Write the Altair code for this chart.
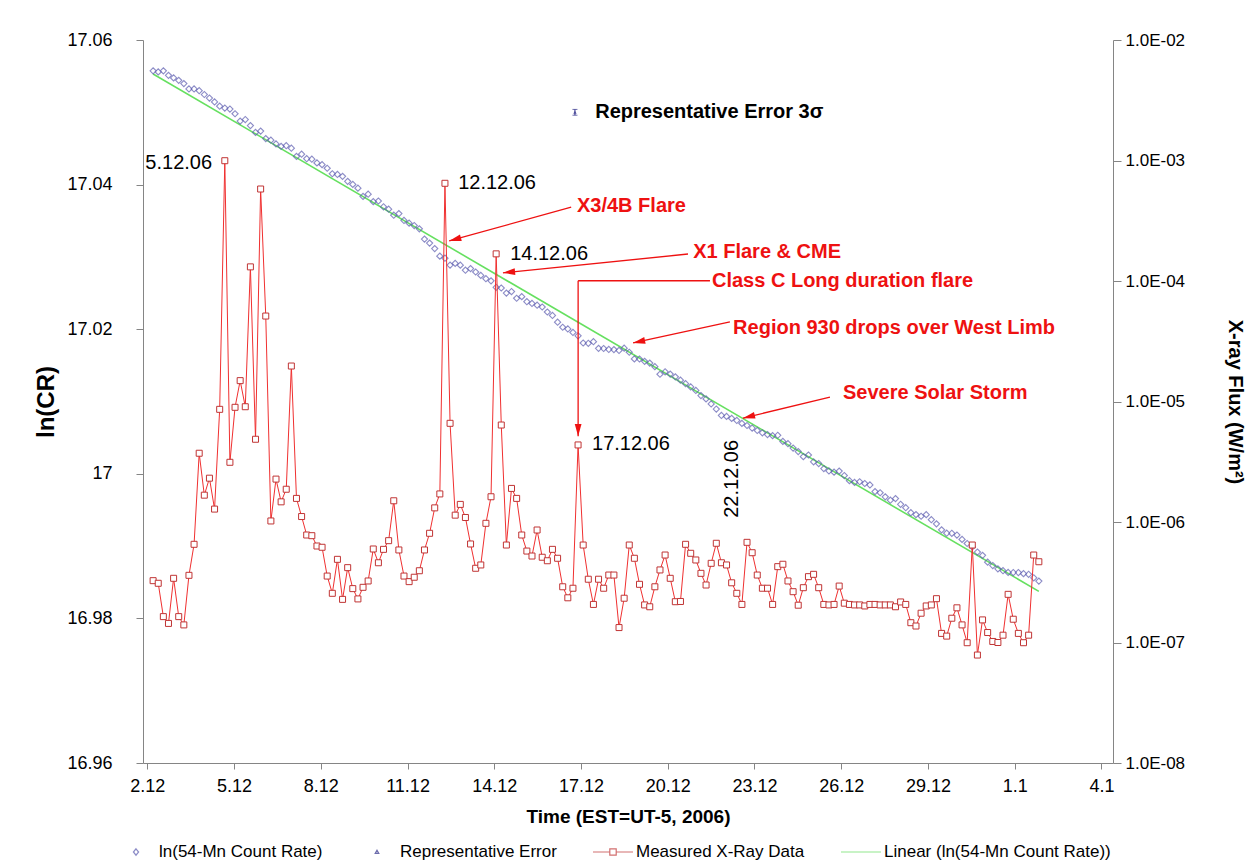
import math
import altair as alt
import pandas as pd

# Both records share one sampling clock: days counted from 1 Dec 2006
# (1 January 2007 is day 32), one sample every 4.25 hours.
T0_DAY = 2.2
STEP_HOURS = 4.25

# ln of the 54-Mn count rate
LN_COUNT_RATE = [
    17.05573, 17.05559, 17.05573, 17.05511, 17.05476, 17.05442, 17.05397, 17.05323, 17.05323, 17.05299,
    17.05246, 17.05197, 17.05143, 17.05084, 17.05059, 17.05045, 17.04980, 17.04878, 17.04900, 17.04816,
    17.04722, 17.04740, 17.04636, 17.04614, 17.04563, 17.04529, 17.04538, 17.04503, 17.04389, 17.04420,
    17.04358, 17.04351, 17.04300, 17.04276, 17.04226, 17.04150, 17.04140, 17.04114, 17.04045, 17.04003,
    17.03951, 17.03837, 17.03867, 17.03764, 17.03773, 17.03693, 17.03660, 17.03577, 17.03599, 17.03504,
    17.03467, 17.03434, 17.03388, 17.03246, 17.03191, 17.03115, 17.03010, 17.02982, 17.02887, 17.02910,
    17.02886, 17.02816, 17.02838, 17.02791, 17.02744, 17.02698, 17.02669, 17.02580, 17.02570, 17.02499,
    17.02521, 17.02428, 17.02450, 17.02380, 17.02356, 17.02332, 17.02307, 17.02238, 17.02190, 17.02097,
    17.02027, 17.02003, 17.01955, 17.01909, 17.01809, 17.01805, 17.01827, 17.01735, 17.01733, 17.01720,
    17.01718, 17.01706, 17.01738, 17.01681, 17.01589, 17.01588, 17.01555, 17.01531, 17.01482, 17.01377,
    17.01411, 17.01379, 17.01341, 17.01295, 17.01247, 17.01201, 17.01153, 17.01082, 17.01036, 17.00966,
    17.00896, 17.00807, 17.00794, 17.00766, 17.00738, 17.00697, 17.00668, 17.00633, 17.00599, 17.00567,
    17.00543, 17.00528, 17.00533, 17.00448, 17.00416, 17.00356, 17.00307, 17.00237, 17.00260, 17.00166,
    17.00142, 17.00072, 17.00039, 17.00023, 17.00037, 16.99976, 16.99905, 16.99881, 16.99890, 16.99866,
    16.99846, 16.99754, 16.99738, 16.99681, 16.99635, 16.99657, 16.99578, 16.99531, 16.99462, 16.99436,
    16.99413, 16.99435, 16.99365, 16.99308, 16.99225, 16.99178, 16.99177, 16.99153, 16.99093, 16.99036,
    16.98989, 16.98918, 16.98872, 16.98778, 16.98731, 16.98685, 16.98660, 16.98636, 16.98634, 16.98634,
    16.98619, 16.98610, 16.98562, 16.98516,
]

# GOES X-ray flux, W/m^2
XRAY_FLUX = [
    3.26e-7, 3.10e-7, 1.64e-7, 1.44e-7, 3.41e-7, 1.64e-7, 1.40e-7, 3.61e-7, 6.53e-7, 3.72e-6,
    1.67e-6, 2.31e-6, 1.28e-6, 8.61e-6, 9.96e-4, 3.13e-6, 8.95e-6, 1.49e-5, 9.05e-6, 1.31e-4,
    4.86e-6, 5.80e-4, 5.12e-5, 1.02e-6, 2.27e-6, 1.47e-6, 1.87e-6, 1.97e-5, 1.57e-6, 1.11e-6,
    7.80e-7, 7.70e-7, 6.32e-7, 6.17e-7, 3.56e-7, 2.56e-7, 4.90e-7, 2.28e-7, 4.18e-7, 2.80e-7,
    2.30e-7, 2.87e-7, 3.24e-7, 5.97e-7, 4.59e-7, 5.93e-7, 7.00e-7, 1.50e-6, 5.86e-7, 3.56e-7,
    3.20e-7, 3.48e-7, 3.94e-7, 5.86e-7, 8.06e-7, 1.31e-6, 1.71e-6, 6.47e-4, 6.59e-6, 1.14e-6,
    1.40e-6, 1.09e-6, 6.57e-7, 4.13e-7, 4.40e-7, 9.75e-7, 1.62e-6, 1.68e-4, 6.38e-6, 6.44e-7,
    1.90e-6, 1.57e-6, 7.80e-7, 5.74e-7, 5.22e-7, 8.58e-7, 5.10e-7, 4.77e-7, 5.93e-7, 5.00e-7,
    2.90e-7, 2.35e-7, 2.82e-7, 4.36e-6, 6.44e-7, 3.35e-7, 2.07e-7, 3.35e-7, 2.82e-7, 3.63e-7,
    3.63e-7, 1.33e-7, 2.33e-7, 6.44e-7, 5.00e-7, 3.04e-7, 2.05e-7, 1.98e-7, 2.90e-7, 4.00e-7,
    5.32e-7, 3.41e-7, 2.18e-7, 2.19e-7, 6.53e-7, 5.50e-7, 4.84e-7, 3.75e-7, 3.00e-7, 4.54e-7,
    6.66e-7, 4.59e-7, 4.40e-7, 3.13e-7, 2.56e-7, 2.07e-7, 6.78e-7, 5.56e-7, 3.63e-7, 2.82e-7,
    2.82e-7, 2.07e-7, 4.26e-7, 4.46e-7, 3.24e-7, 2.64e-7, 2.04e-7, 2.85e-7, 3.52e-7, 3.68e-7,
    2.85e-7, 2.07e-7, 2.05e-7, 2.07e-7, 2.94e-7, 2.12e-7, 2.07e-7, 2.05e-7, 2.05e-7, 2.01e-7,
    2.07e-7, 2.07e-7, 2.05e-7, 2.05e-7, 2.05e-7, 1.98e-7, 2.17e-7, 2.07e-7, 1.46e-7, 1.37e-7,
    1.75e-7, 2.01e-7, 2.05e-7, 2.31e-7, 1.19e-7, 1.13e-7, 1.59e-7, 1.94e-7, 1.40e-7, 9.96e-8,
    6.44e-7, 7.87e-8, 1.54e-7, 1.21e-7, 1.02e-7, 1.00e-7, 1.15e-7, 2.51e-7, 1.56e-7, 1.19e-7,
    9.96e-8, 1.15e-7, 5.32e-7, 4.68e-7,
]

X_TICKS = [2, 5, 8, 11, 14, 17, 20, 23, 26, 29, 32, 35]
LN_TICKS = [16.96, 16.98, 17.0, 17.02, 17.04, 17.06]
FLUX_TICKS = [1e-8, 1e-7, 1e-6, 1e-5, 1e-4, 1e-3, 1e-2]

X_DOMAIN = [1.85, 35.4]
LN_DOMAIN = [16.96, 17.06]
FLUX_DOMAIN = [1e-8, 1e-2]

# Representative 3-sigma error bar on ln(CR)
REP_ERR_DAY = 16.79
REP_ERR_LN = 17.0500
REP_ERR_HALF = 0.0004
REP_ERR_TEXT_DAY = 17.49

# Date labels next to the flare peaks
PEAK_LABELS = ["5.12.06", "12.12.06", "14.12.06", "17.12.06"]
PEAK_LABEL_DAY = [4.24, 12.75, 14.55, 17.38]
PEAK_LABEL_LN = [17.0430, 17.0402, 17.0304, 17.0041]
PEAK_LABEL_ALIGN = ["right", "left", "left", "left"]
STORM_LABEL = "22.12.06"
STORM_LABEL_DAY = 22.22
STORM_LABEL_LN = 16.9993

# Event notes and their arrows
EVENTS = ["X3/4B Flare", "X1 Flare & CME", "Class C Long duration flare",
          "Region 930  drops over West Limb", "Severe Solar Storm"]
EVENT_TEXT_DAY = [16.86, 20.88, 21.53, 22.26, 26.06]
EVENT_TEXT_LN = [17.0370, 17.0307, 17.0267, 17.0202, 17.0112]
ARROW_FROM_DAY = [16.66, 20.70, 16.90, 22.15, 25.61]
ARROW_FROM_LN = [17.0369, 17.0304, 17.0267, 17.0210, 17.0106]
ARROW_TIP_DAY = [12.44, 14.30, 16.90, 18.80, 22.60]
ARROW_TIP_LN = [17.0322, 17.0278, 17.0052, 17.0181, 17.0077]
# horizontal leader of the Class C note, from its text to the arrow's elbow
LEADER_DAY = [21.46, 16.90]
LEADER_LN = [17.0267, 17.0267]

LEGEND_NAMES = ["ln(54-Mn Count Rate)", "Representative Error",
                "Measured X-Ray Data", "Linear (ln(54-Mn Count Rate))"]

W, H = 970, 723
FONT = "Liberation Sans"
BLUE = "#5c5cb0"
NAVY = "#2e2e8a"
RED_LINE = "#f03030"
RED_MARK = "#c03434"
GREEN = "#66e060"
NOTE_RED = "#ee1111"
AXIS_GREY = "#858585"

n = len(LN_COUNT_RATE)
day = [T0_DAY + i * STEP_HOURS / 24.0 for i in range(n)]
series = pd.DataFrame({"day": day, "ln": LN_COUNT_RATE, "flux": XRAY_FLUX})

x_scale = alt.Scale(domain=X_DOMAIN, nice=False, zero=False)
ln_scale = alt.Scale(domain=LN_DOMAIN, nice=False, zero=False)
flux_scale = alt.Scale(type="log", domain=FLUX_DOMAIN, nice=False)

x_axis = alt.Axis(
    values=X_TICKS,
    labelExpr="datum.value > 31 ? (datum.value - 31) + '.1' : datum.value + '.12'",
    title="Time (EST=UT-5, 2006)", grid=False,
    labelFont=FONT, labelFontSize=18, labelColor="black", labelPadding=8,
    titleFont=FONT, titleFontSize=19, titleFontWeight="bold", titleColor="black",
    titlePadding=12, domainColor=AXIS_GREY, tickColor=AXIS_GREY, tickSize=6,
)
ln_axis = alt.Axis(
    values=LN_TICKS, format=".2~f", title="ln(CR)", grid=False, orient="left",
    labelFont=FONT, labelFontSize=18, labelColor="black", labelPadding=24,
    titleFont=FONT, titleFontSize=24, titleFontWeight="bold", titleColor="black",
    titlePadding=8, domainColor=AXIS_GREY, tickColor=AXIS_GREY, tickSize=7,
)
flux_axis = alt.Axis(
    values=FLUX_TICKS, orient="right", grid=False,
    labelExpr="'1.0E-0' + round(-log(datum.value) / LN10)",
    title="X-ray Flux (W/m\u00b2)",
    labelFont=FONT, labelFontSize=17, labelColor="black", labelPadding=4,
    titleFont=FONT, titleFontSize=20, titleFontWeight="bold", titleColor="black",
    titlePadding=40, domainColor=AXIS_GREY, tickColor=AXIS_GREY, tickSize=8,
)


def X(field="day"):
    return alt.X(field, type="quantitative", scale=x_scale, axis=x_axis)


def Y_LN(field="ln"):
    return alt.Y(field, type="quantitative", scale=ln_scale, axis=ln_axis)


base = alt.Chart(series)

count_points = base.mark_point(
    shape="diamond", filled=False, size=38, strokeWidth=1.1, color=BLUE
).encode(x=X(), y=Y_LN())

trend = base.transform_regression(
    "day", "ln", extent=[day[0], day[-1]]
).mark_line(color=GREEN, strokeWidth=1.6).encode(x=X(), y=Y_LN())

# representative error bar
err_df = pd.DataFrame({
    "day": [REP_ERR_DAY], "ln": [REP_ERR_LN],
    "lo": [REP_ERR_LN - REP_ERR_HALF], "hi": [REP_ERR_LN + REP_ERR_HALF],
})
err_chart = alt.Chart(err_df)
err_rule = err_chart.mark_rule(color=NAVY, strokeWidth=1).encode(
    x=X(), y=Y_LN("lo"), y2="hi")
err_caps = alt.layer(
    err_chart.mark_tick(color=NAVY, size=5, thickness=1, orient="horizontal").encode(x=X(), y=Y_LN("lo")),
    err_chart.mark_tick(color=NAVY, size=5, thickness=1, orient="horizontal").encode(x=X(), y=Y_LN("hi")),
)
err_mark = err_chart.mark_point(shape="triangle-up", filled=True, size=12, color=NAVY).encode(
    x=X(), y=Y_LN())
err_text = alt.Chart(pd.DataFrame({
    "day": [REP_ERR_TEXT_DAY], "ln": [REP_ERR_LN], "t": ["Representative Error 3\u03c3"]
})).mark_text(align="left", font=FONT, fontSize=20, fontWeight="bold", color="black").encode(
    x=X(), y=Y_LN(), text="t:N")

# date labels on peaks
peak_df = pd.DataFrame({"day": PEAK_LABEL_DAY, "ln": PEAK_LABEL_LN,
                        "t": PEAK_LABELS, "a": PEAK_LABEL_ALIGN})
peak_left = alt.Chart(peak_df[peak_df.a == "left"]).mark_text(
    align="left", font=FONT, fontSize=20, color="black").encode(x=X(), y=Y_LN(), text="t:N")
peak_right = alt.Chart(peak_df[peak_df.a == "right"]).mark_text(
    align="right", font=FONT, fontSize=20, color="black").encode(x=X(), y=Y_LN(), text="t:N")
storm_label = alt.Chart(pd.DataFrame({
    "day": [STORM_LABEL_DAY], "ln": [STORM_LABEL_LN], "t": [STORM_LABEL]
})).mark_text(angle=270, font=FONT, fontSize=20, color="black").encode(
    x=X(), y=Y_LN(), text="t:N")

# event notes
note_df = pd.DataFrame({"day": EVENT_TEXT_DAY, "ln": EVENT_TEXT_LN, "t": EVENTS})
notes = alt.Chart(note_df).mark_text(
    align="left", font=FONT, fontSize=20, fontWeight="bold", color=NOTE_RED
).encode(x=X(), y=Y_LN(), text="t:N")

px_per_day = W / (X_DOMAIN[1] - X_DOMAIN[0])
px_per_ln = H / (LN_DOMAIN[1] - LN_DOMAIN[0])
angles = []
for x0, y0, x1, y1 in zip(ARROW_FROM_DAY, ARROW_FROM_LN, ARROW_TIP_DAY, ARROW_TIP_LN):
    dx = (x1 - x0) * px_per_day
    dy = -(y1 - y0) * px_per_ln
    angles.append(math.degrees(math.atan2(dx, -dy)) % 360)

arrow_df = pd.DataFrame({"day": ARROW_FROM_DAY, "ln": ARROW_FROM_LN,
                         "day2": ARROW_TIP_DAY, "ln2": ARROW_TIP_LN, "angle": angles})
arrow_lines = alt.Chart(arrow_df).mark_rule(color=NOTE_RED, strokeWidth=1.3).encode(
    x=X(), y=Y_LN(), x2="day2", y2="ln2")
leader = alt.Chart(pd.DataFrame({
    "day": [LEADER_DAY[0]], "ln": [LEADER_LN[0]], "day2": [LEADER_DAY[1]], "ln2": [LEADER_LN[1]]
})).mark_rule(color=NOTE_RED, strokeWidth=1.3).encode(x=X(), y=Y_LN(), x2="day2", y2="ln2")
ARROW_HEAD = "M0,0L0.75,2.7L-0.75,2.7Z"
arrow_heads = alt.Chart(arrow_df).mark_point(
    shape=ARROW_HEAD, filled=True, size=81, color=NOTE_RED, opacity=1
).encode(x=X("day2"), y=Y_LN("ln2"), angle=alt.Angle("angle:Q", scale=None))

# legend entries (the marks themselves sit outside the clipped view)
legend_spec = dict(
    title=None, orient="none", direction="horizontal", legendX=-28, legendY=791,
    symbolSize=1600, symbolStrokeWidth=1.2, labelFont=FONT, labelFontSize=17,
    labelColor="black", labelLimit=0, columnPadding=33, labelOffset=2, padding=0,
)
legend_df = pd.DataFrame({"name": LEGEND_NAMES, "day": [-100] * 4, "ln": [16.0] * 4})
legend_layer = alt.Chart(legend_df).mark_point(filled=False, clip=True, strokeWidth=1.2).encode(
    x=X(), y=Y_LN(),
    color=alt.Color("name:N", scale=alt.Scale(
        domain=LEGEND_NAMES, range=[BLUE, NAVY, RED_MARK, GREEN]),
        legend=alt.Legend(**legend_spec)),
    shape=alt.Shape("name:N", scale=alt.Scale(
        domain=LEGEND_NAMES,
        range=["M0,-0.16L0.13,0L0,0.16L-0.13,0Z",
               "M0,-0.09L0.09,0.07L-0.09,0.07Z",
               "M-1,0H-0.16M0.16,0H1M-0.16,-0.16H0.16V0.16H-0.16Z",
               "M-1,0H1"]),
        legend=alt.Legend(**legend_spec)),
)

left = alt.layer(
    trend, count_points, err_rule, err_caps, err_mark, err_text,
    peak_left, peak_right, storm_label, arrow_lines, leader, arrow_heads, notes,
    legend_layer,
)

flux_y = alt.Y("flux", type="quantitative", scale=flux_scale, axis=flux_axis)
flux_line = base.mark_line(color=RED_LINE, strokeWidth=1).encode(x=X(), y=flux_y)
flux_marks = base.mark_point(shape="square", filled=False, size=36, strokeWidth=1,
                             color=RED_MARK, fill="white", fillOpacity=1).encode(x=X(), y=flux_y)
right = alt.layer(flux_line, flux_marks)

chart = alt.layer(left, right).resolve_scale(y="independent").properties(
    width=W, height=H,
    autosize=alt.AutoSizeParams(type="none"),
    padding={"left": 143, "top": 40, "right": 143, "bottom": 103},
    background="white",
).configure_view(stroke=None)

chart.save("out.html", embed_options={"renderer": "svg", "actions": False})
